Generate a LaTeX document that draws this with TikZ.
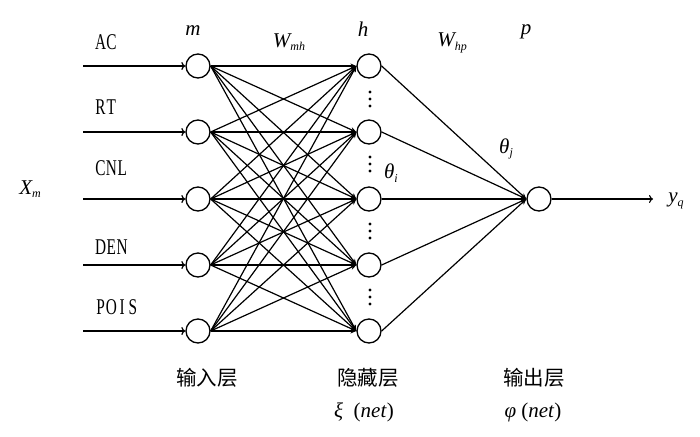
\documentclass[tikz,border=0pt]{standalone}
\usepackage{fontspec}
\setmainfont{Liberation Serif}
\newfontfamily\cjk{Noto Sans CJK SC}
\usetikzlibrary{arrows.meta}
\newcommand\mch[1]{\makebox[10.8pt]{\scalebox{0.68}[1]{#1}}}
\newcommand\ivar[2]{{\itshape #1}\raisebox{-0.35ex}{\fontsize{12}{14}\selectfont\itshape #2}}
\tikzset{
  neuron/.style={circle,draw,line width=1.3pt,minimum size=24pt,inner sep=0pt},
  conn/.style={line width=1.2pt,-{Stealth[length=6pt,width=5pt]}},
  inarr/.style={line width=1.2pt,-{To[length=4pt,width=8pt]}},
  lab/.style={font=\fontsize{22.5}{24}\selectfont,inner sep=0pt},
  mlab/.style={font=\fontsize{21}{23}\selectfont\itshape,inner sep=0pt},
  zh/.style={font=\fontsize{20.5}{22}\selectfont\cjk,inner sep=0pt},
  vdot/.style={circle,fill,inner sep=0pt,minimum size=3.4pt}
}
\begin{document}
\begin{tikzpicture}[x=1pt,y=-1pt]
\useasboundingbox (0,0) rectangle (700,436);
% nodes
\foreach \i/\y in {1/66,2/132,3/199,4/265,5/331}{
  \node[neuron] (in\i) at (198,\y) {};
  \node[neuron] (hd\i) at (369,\y) {};
  \coordinate (src\i) at (83,\y);
}
\node[neuron] (out) at (539,199) {};
\coordinate (yend) at (653,199);
% input labels
\node[lab,anchor=west] (lAC) at (95,42) {\mch{A}\mch{C}};
\node[lab,anchor=west] (lRT) at (95,107) {\mch{R}\mch{T}};
\node[lab,anchor=west] (lCNL) at (95,168) {\mch{C}\mch{N}\mch{L}};
\node[lab,anchor=west] (lDEN) at (95,247) {\mch{D}\mch{E}\mch{N}};
\node[lab,anchor=west] (lPOIS) at (95,307) {\mch{P}\mch{O}\mch{I}\mch{S}};
% input arrows
\foreach \i in {1,...,5}{
  \draw[inarr] (src\i) -- (in\i.west);
}
% input -> hidden
\foreach \i in {1,...,5}{
  \foreach \j in {1,...,5}{
    \draw[conn] (in\i.east) -- (hd\j.west);
  }
}
% hidden -> output
\foreach \j in {1,...,5}{
  \draw[conn] (hd\j.east) -- (out.west);
}
\draw[inarr] (out.east) -- (yend);
% dots
\foreach \y [count=\k] in {99,164,231,297}{
  \node[vdot] (da\k) at (370,\y-7) {};
  \node[vdot] (db\k) at (370,\y) {};
  \node[vdot] (dc\k) at (370,\y+7) {};
}
% math labels
\node[mlab] (Xm) at (30,189) {\ivar{X}{m}};
\node[mlab] (lm) at (193,31) {m};
\node[mlab] (Wmh) at (289,42) {\ivar{W}{mh}};
\node[mlab] (lh) at (363,29) {h};
\node[mlab] (Whp) at (452,43) {\ivar{W}{hp}};
\node[mlab] (lp) at (526,32) {p};
\node[mlab] (thj) at (506,149) {\ivar{θ}{j}};
\node[mlab] (thi) at (391,173) {\ivar{θ}{i}};
\node[mlab] (yq) at (676,201) {\ivar{y}{q}};
% bottom labels
\node[zh] (zin) at (207,378) {输入层};
\node[zh] (zhd) at (368,378) {隐藏层};
\node[zh] (zout) at (534,378) {输出层};
\node[mlab] (xinet) at (364,412) {ξ\ \ \textup{(}net\textup{)}};
\node[mlab] (phnet) at (533,412) {φ \textup{(}net\textup{)}};
\end{tikzpicture}
\end{document}
